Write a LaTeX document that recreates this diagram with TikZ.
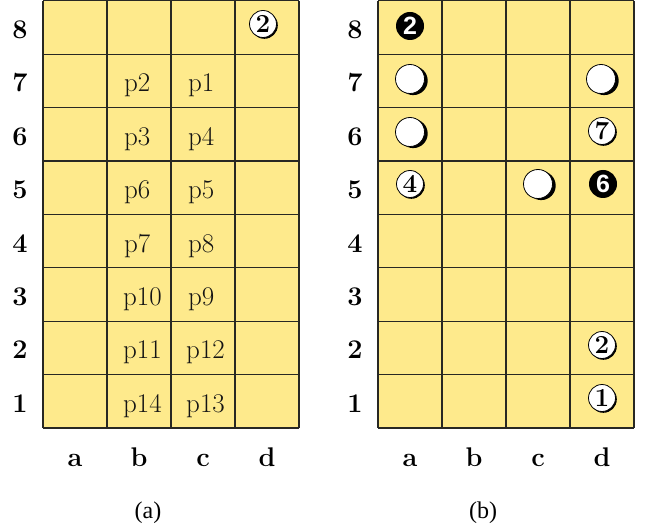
\documentclass[tikz,border=0pt]{standalone}
\usepackage{fontspec}
\usetikzlibrary{shadows}
\newfontfamily\capfont{Liberation Serif}
\newfontfamily\numsans{Liberation Sans}
\definecolor{boardfill}{RGB}{254,234,140}
\definecolor{gridcol}{RGB}{40,40,35}
\begin{document}
\begin{tikzpicture}[x=1pt,y=-1pt,
  gridline/.style={draw=gridcol,line width=1.2pt},
  rowlab/.style={font=\fontsize{27}{30}\selectfont\bfseries,anchor=base},
  collab/.style={font=\fontsize{27}{30}\selectfont\bfseries,anchor=base},
  plab/.style={font=\fontsize{27}{30}\selectfont,anchor=base west,inner sep=0pt,text=black!92},
  caplab/.style={font=\capfont\fontsize{24}{28}\selectfont,anchor=base},
  numw/.style={circle,draw=black,line width=0.8pt,fill=white,inner sep=0pt,minimum size=27pt,
    font=\fontsize{26}{28}\selectfont\bfseries,
    drop shadow={shadow xshift=1.3pt,shadow yshift=-1.3pt,opacity=1,fill=black}},
  numb/.style={circle,fill=black,text=white,inner sep=0pt,minimum size=28pt,
    font=\numsans\fontsize{25}{28}\selectfont\bfseries},
  stone/.style={circle,draw=black,line width=0.8pt,fill=white,inner sep=0pt,minimum size=29pt,
    drop shadow={shadow xshift=3.2pt,shadow yshift=-1.6pt,opacity=1,fill=black}}
]
\useasboundingbox (0,0) rectangle (650,529);
% ---------- boards ----------
\foreach \x in {43,378}{
  \fill[boardfill] (\x,0.7) rectangle (\x+256,428);
  \foreach \i in {0,...,4}
    \draw[gridline] (\x+64*\i,0.7) -- (\x+64*\i,428);
  \foreach \j in {0,...,8}
    \draw[gridline] (\x,0.7+53.41*\j) -- (\x+256,0.7+53.41*\j);
}
% ---------- row labels ----------
\foreach \r in {1,...,8}{
  \node[rowlab] (La\r) at (20,{0.7+(8-\r+0.5)*53.41+11}) {\r};
  \node[rowlab] (Lb\r) at (355,{0.7+(8-\r+0.5)*53.41+11}) {\r};
}
% ---------- column labels ----------
\foreach \c [count=\k from 0] in {a,b,c,d}{
  \node[collab] (Ca\c) at ({43+64*\k+32},466) {\c};
  \node[collab] (Cb\c) at ({378+64*\k+32},466) {\c};
}
% ---------- captions ----------
\node[caplab] (capa) at (148,518) {(a)};
\node[caplab] (capb) at (483,518) {(b)};
% ---------- board (a) ----------
\node[plab] (p2)  at (124,91.8)  {p2};
\node[plab] (p1)  at (188,91.8)  {p1};
\node[plab] (p3)  at (124,145.2) {p3};
\node[plab] (p4)  at (188,145.2) {p4};
\node[plab] (p6)  at (124,198.7) {p6};
\node[plab] (p5)  at (188,198.7) {p5};
\node[plab] (p7)  at (124,252.1) {p7};
\node[plab] (p8)  at (188,252.1) {p8};
\node[plab] (p10) at (123,305.5) {p10};
\node[plab] (p9)  at (188,305.5) {p9};
\node[plab] (p11) at (123,358.9) {p11};
\node[plab] (p12) at (186,358.9) {p12};
\node[plab] (p14) at (123,412.3) {p14};
\node[plab] (p13) at (186,412.3) {p13};
\node[numw] (ad8) at (263,24) {2};
% ---------- board (b) ----------
\node[numb]  (ba8) at (410,26)  {2};
\node[stone] (ba7) at (410,79)  {};
\node[stone] (ba6) at (410,132) {};
\node[numw]  (ba5) at (410,184) {4};
\node[stone] (bc5) at (538,184) {};
\node[numb]  (bd5) at (603,184) {6};
\node[stone] (bd7) at (601,79)  {};
\node[numw]  (bd6) at (602,131) {7};
\node[numw]  (bd2) at (602,345) {2};
\node[numw]  (bd1) at (602,398) {1};
\end{tikzpicture}
\end{document}
